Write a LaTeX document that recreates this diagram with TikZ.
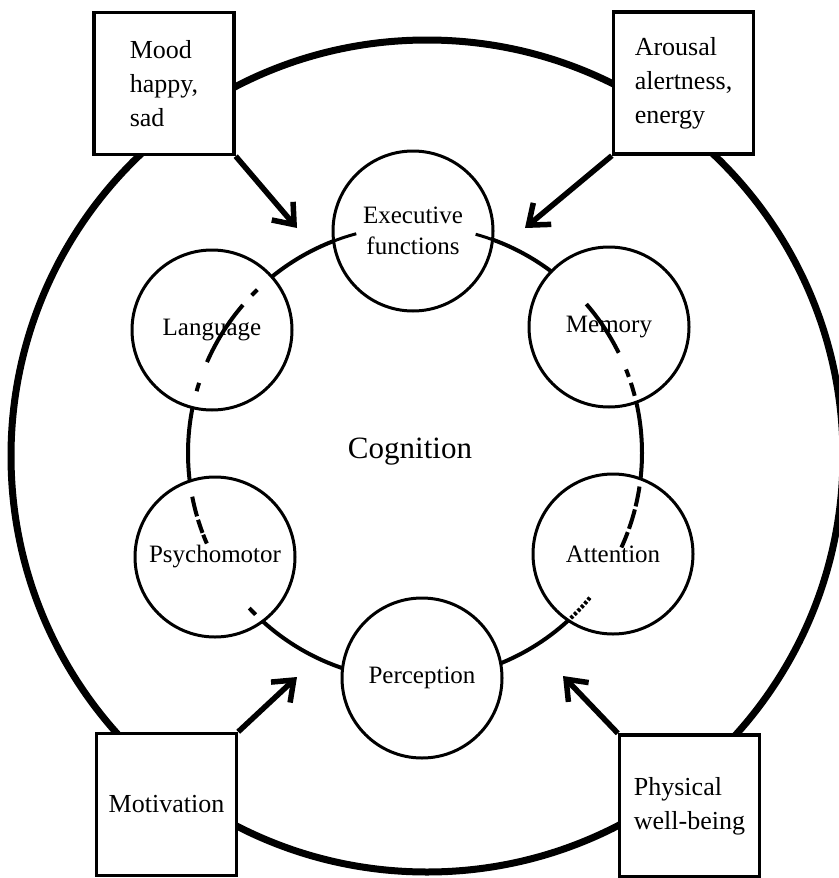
\documentclass[tikz,border=0pt]{standalone}
\usepackage{fontspec}
\setmainfont{Liberation Serif}
\usetikzlibrary{arrows.meta}

% a piece of the inner ring between two angles (y axis points down)
\newcommand\ringpiece[3][]{%
  \draw[ringline,#1] ([shift={(#2:227)}]ring) arc[start angle=#2,end angle=#3,radius=227];}

\begin{document}
\begin{tikzpicture}[x=1pt,y=-1pt,
  factor/.style={draw,line width=3.4pt,fill=white,minimum width=140pt,minimum height=142pt,
    align=left,inner sep=0pt,font=\fontsize{26}{34}\selectfont},
  areanode/.style={draw,circle,line width=3pt,fill=white,minimum size=160pt,inner sep=0pt,
    align=center,font=\fontsize{25}{31}\selectfont},
  influence/.style={line width=5.5pt,-{Straight Barb[length=18pt,width=28pt]}},
  ringline/.style={line width=4pt},
  boundary/.style={line width=7pt},
]
\useasboundingbox (0,0) rectangle (838,878);

% outer boundary
\draw[boundary] (427,456) circle[radius=416];

% inner ring
\coordinate (ring) at (415,453);
\draw[ringline] (ring) circle[radius=227];

% cognitive domains
\node[areanode] (exec)       at (413,231) {Executive\\functions};
\node[areanode] (language)   at (212,330) {Language};
\node[areanode] (memory)     at (609,327) {Memory};
\node[areanode] (psycho)     at (215,557) {Psychomotor};
\node[areanode] (attention)  at (613,554) {Attention};
\node[areanode] (perception) at (422,678) {Perception};

\node[font=\fontsize{31}{37}\selectfont] (cognition) at (410,452) {Cognition};

% ring pieces running through the domains
\ringpiece[line width=3pt]{-112}{-105}
\ringpiece[line width=3pt]{-69}{-74.5}
\ringpiece{-134}{-136}
\ringpiece{-139.3}{-156.4}
\ringpiece{-162}{-164.2}
\ringpiece{-191.1}{-196.2}
\ringpiece{-197.1}{-200.6}
\ringpiece{-201.1}{-203.5}
\ringpiece{-223.1}{-225.4}
\ringpiece{-41}{-26.2}
\ringpiece{-21.6}{-19.6}
\ringpiece{-18}{-14.6}
\ringpiece{8.5}{13.6}
\ringpiece{14.4}{19.5}
\ringpiece{20.4}{24.6}
\ringpiece[dash pattern=on 3pt off 2pt]{39.6}{47.1}

% influencing factors
\node[factor] (mood)       at (164,83.5)  {Mood\\happy,\\sad};
\node[factor] (arousal)    at (683.5,83)  {Arousal\\alertness,\\energy};
\node[factor] (motivation) at (166.5,804.5) {Motivation};
\node[factor] (physical)   at (689.5,806) {Physical\\well-being};

% arrow targets
\coordinate (t1) at (297,228);
\coordinate (t2) at (525,228);
\coordinate (t3) at (297,677);
\coordinate (t4) at (563,676);

\draw[influence] (mood.south east) -- (t1);
\draw[influence] (arousal.south west) -- (t2);
\draw[influence] (motivation.north east) -- (t3);
\draw[influence] (physical.north west) -- (t4);
\end{tikzpicture}
\end{document}
